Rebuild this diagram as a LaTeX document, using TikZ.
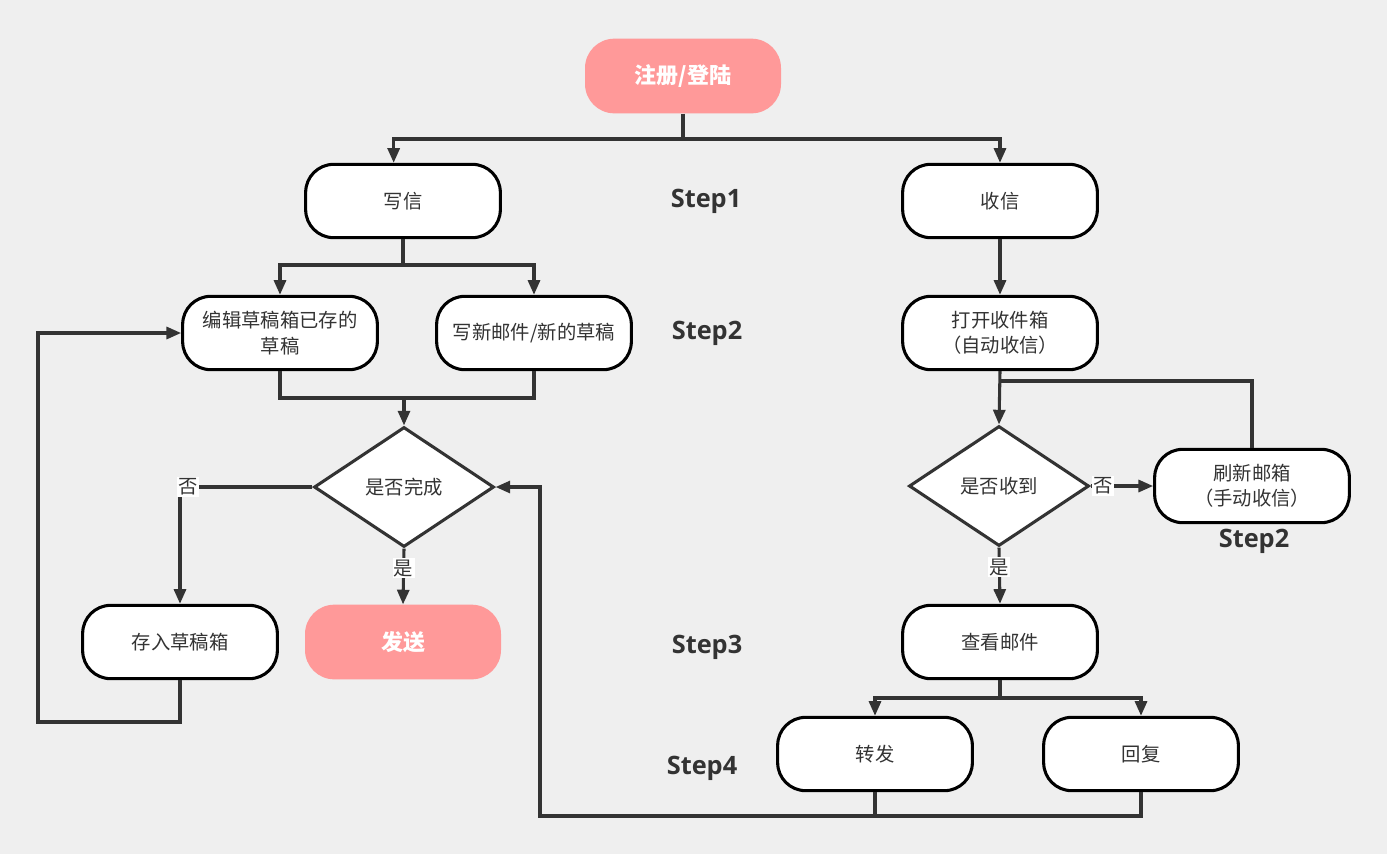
\documentclass[tikz,border=0pt]{standalone}
\usepackage{fontspec}
\newfontfamily\cjk{Noto Sans CJK SC}
\newfontfamily\stepf{Open Sans}
\usetikzlibrary{shapes.geometric,arrows.meta}
\definecolor{bg}{HTML}{EFEFEF}
\definecolor{pinkf}{HTML}{FF9999}
\definecolor{ln}{HTML}{333333}
\begin{document}
\begin{tikzpicture}[x=0.75pt,y=-0.75pt,
  box/.style={draw=black,line width=2.3pt,fill=white,rounded corners=21pt,minimum width=146pt,minimum height=55pt,align=center,inner sep=2pt,font=\cjk\fontsize{14.5}{19}\selectfont,text=ln},
  hot/.style={fill=pinkf,rounded corners=22pt,minimum width=147pt,minimum height=56pt,font=\cjk\bfseries\fontsize{16.5}{20}\selectfont,text=white},
  dia/.style={diamond,draw=ln,line width=2.3pt,fill=white,minimum width=135pt,minimum height=90pt,inner sep=0pt,font=\cjk\fontsize{14.5}{19}\selectfont,text=ln},
  conn/.style={draw=ln,line width=2.3pt},
  arr/.style={conn,-{Triangle[length=11pt,width=9pt]}},
  lab/.style={fill=white,inner sep=1pt,font=\cjk\fontsize{14.5}{17}\selectfont,text=ln},
  steplab/.style={font=\stepf\bfseries\fontsize{19}{22}\selectfont,text=ln}]
\fill[bg] (0,0) rectangle (1387,854);
\useasboundingbox (0,0) rectangle (1387,854);

% nodes
\node[hot] (reg) at (683,76) {注册/登陆};
\node[box] (xie) at (403,201) {写信};
\node[box] (shou) at (1000,201) {收信};
\node[steplab] (s1) at (706,201) {Step1};
\node[box] (bj) at (280,333) {编辑草稿箱已存的\\草稿};
\node[box] (xx) at (534,333) {写新邮件/新的草稿};
\node[steplab] (s2) at (707,333) {Step2};
\node[box] (dk) at (1000,333) {打开收件箱\\（自动收信）};
\node[dia] (wc) at (404,487) {是否完成};
\node[dia] (sd) at (999,486) {是否收到};
\node[box] (sx) at (1252,486) {刷新邮箱\\（手动收信）};
\node[steplab] (s2b) at (1254,541) {Step2};
\node[box] (cun) at (180,642) {存入草稿箱};
\node[hot] (fs) at (403,642) {发送};
\node[box] (ck) at (1000,642) {查看邮件};
\node[steplab] (s3) at (707,647) {Step3};
\node[box] (zf) at (875,754) {转发};
\node[box] (hf) at (1141,754) {回复};
\node[steplab] (s4) at (702,768) {Step4};

% junction coordinates
\coordinate (tj) at (683,139);
\coordinate (wj) at (403,265);
\coordinate (mj) at (404,398);
\coordinate (lp1) at (38,722);
\coordinate (lp3) at (540,816);
\coordinate (rj) at (1000,381);
\coordinate (cj) at (1000,698);

% connectors
\draw[conn] (reg.south) -- (tj);
\draw[arr] (tj) -| ([xshift=-7pt]xie.north);
\draw[arr] (tj) -| (shou.north);
\draw[conn] (xie.south) -- (wj);
\draw[arr] (wj) -| (bj.north);
\draw[arr] (wj) -| (xx.north);
\draw[conn] (bj.south) |- (mj);
\draw[conn] (xx.south) |- (mj);
\draw[arr] (mj) -- (wc.north);
\draw[arr] (wc.west) -| (cun.north) node[lab,pos=0.47] {否};
\draw[arr] (wc.south) -- (fs.north) node[lab,pos=0.35] {是};
\draw[arr] (cun.south) |- (lp1) |- (bj.west);
\draw[arr] (shou.south) -- (dk.north);
\draw[arr] (dk.south) -- (sd.north);
\draw[arr] (sd.east) -- (sx.west) node[lab,pos=0.2] {否};
\draw[conn] (sx.north) |- (rj);
\draw[arr] (sd.south) -- (ck.north) node[lab,pos=0.35] {是};
\draw[conn] (ck.south) -- (cj);
\draw[arr] (cj) -| (zf.north);
\draw[arr] (cj) -| (hf.north);
\draw[conn] (zf.south) -- (zf.south |- lp3);
\draw[arr] (hf.south) |- (lp3) |- (wc.east);
\end{tikzpicture}
\end{document}
